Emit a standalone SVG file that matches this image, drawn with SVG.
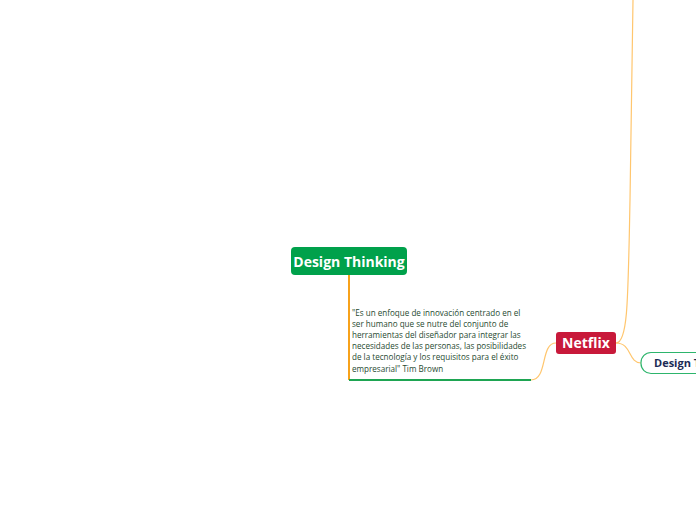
<svg xmlns="http://www.w3.org/2000/svg" width="696" height="520" viewBox="0 0 696 520">
<style>
.t{font-family:"Open Sans","Noto Sans","Liberation Sans",sans-serif;}
.h{font-weight:bold;font-size:14px;fill:#fff;text-anchor:middle;}
.b{font-size:8.1px;fill:#1f4a30;}
.c{fill:none;stroke:#ffc66e;stroke-width:1.2;}
</style>
<rect width="696" height="520" fill="#fff"/>
<g id="connectors">
<line x1="349" y1="275" x2="349" y2="380" stroke="#f7a21b" stroke-width="2"/>
<line x1="349" y1="380" x2="531" y2="380" stroke="#1ea552" stroke-width="2"/>
<path class="c" d="M531,380 C548,380 540,343 556,343"/>
<path class="c" d="M616,343 C628,343 628,300 630,200 C632,80 633,20 633,0"/>
<path class="c" d="M616,343 C632,343 628,363 641,363"/>
</g>
<g id="design-thinking">
<rect x="291" y="247" width="116" height="28" rx="4" fill="#00a14b"/>
<text class="t h" x="349" y="267">Design Thinking</text>
</g>
<g id="definition">
<text class="t b" x="352" y="316">"Es un enfoque de innovación centrado en el</text>
<text class="t b" x="352" y="327">ser humano que se nutre del conjunto de</text>
<text class="t b" x="352" y="338">herramientas del diseñador para integrar las</text>
<text class="t b" x="352" y="349">necesidades de las personas, las posibilidades</text>
<text class="t b" x="352" y="360">de la tecnología y los requisitos para el éxito</text>
<text class="t b" x="352" y="372">empresarial" Tim Brown</text>
</g>
<g id="netflix">
<rect x="556" y="332" width="60" height="22" rx="3" fill="#c8193a"/>
<text class="t h" x="586" y="348">Netflix</text>
</g>
<g id="design-t">
<rect x="641" y="352.5" width="70" height="21" rx="10" fill="#fff" stroke="#2db56c" stroke-width="1.2"/>
<text class="t" x="654" y="367" font-size="11" font-weight="bold" fill="#1c2b55">Design T</text>
</g>
</svg>
